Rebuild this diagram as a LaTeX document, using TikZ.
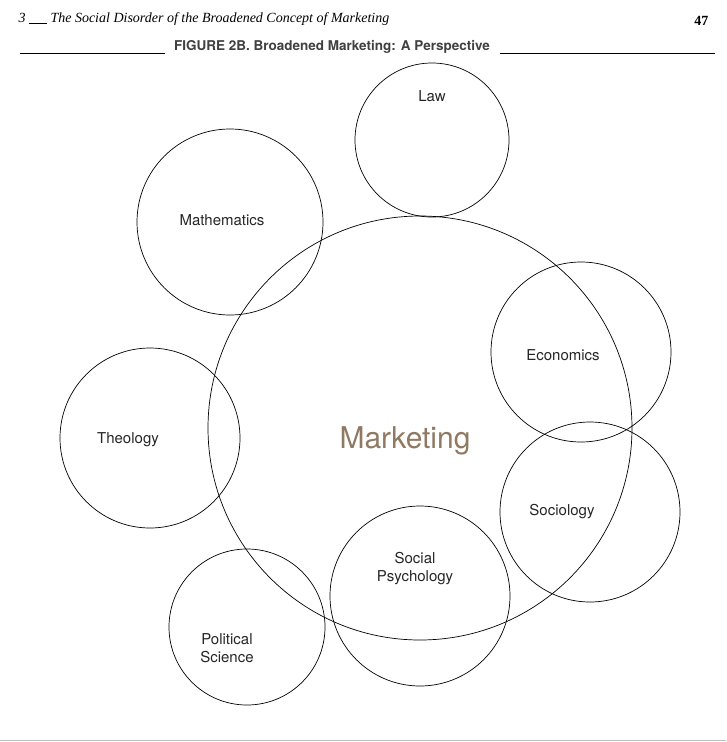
\documentclass[tikz,border=0pt]{standalone}
\usepackage{fontspec}
\setmainfont{Liberation Serif}
\setsansfont{TeX Gyre Heros}
\begin{document}
\begin{tikzpicture}[x=1pt,y=-1pt,
  disc/.style={draw,circle,line width=0.7pt},
  lbl/.style={font=\sffamily\fontsize{15}{18}\selectfont,align=center,text=black!85}]
\useasboundingbox (0,0) rectangle (726,742);
\node[anchor=west,font=\itshape\fontsize{14}{16}\selectfont] (hdr) at (15,19) {3 \rule[-1pt]{18pt}{0.5pt} The Social Disorder of the Broadened Concept of Marketing};
\node[anchor=east,font=\bfseries\fontsize{14}{16}\selectfont] (pg) at (712,21) {47};
\node[font=\sffamily\bfseries\fontsize{13.5}{16}\selectfont,text=black!75] (title) at (332,47) {FIGURE 2B. Broadened Marketing: A Perspective};
\coordinate (l1) at (20,53); \coordinate (l2) at (165,53);
\coordinate (r1) at (500,53); \coordinate (r2) at (715,53);
\draw[line width=0.6pt] (l1) -- (l2) (r1) -- (r2);
\node[disc,minimum size=424pt] (mkt) at (420,428) {};
\node[font=\sffamily\fontsize{30}{34}\selectfont,text=brown!50!black!70] (mktl) at (405,441) {Marketing};
\node[disc,minimum size=154pt] (law) at (432,140) {};
\node[disc,minimum size=186pt] (math) at (230,222) {};
\node[disc,minimum size=180pt] (eco) at (581,352) {};
\node[disc,minimum size=180pt] (theo) at (150,438) {};
\node[disc,minimum size=180pt] (soc) at (590,512) {};
\node[disc,minimum size=180pt] (sp) at (420,596) {};
\node[disc,minimum size=156pt] (pol) at (247,627) {};
\node[lbl] (lawl) at (432,96) {Law};
\node[lbl] (mathl) at (222,220) {Mathematics};
\node[lbl] (ecol) at (563,355) {Economics};
\node[lbl] (theol) at (128,440) {Theology};
\node[lbl] (socl) at (562,512) {Sociology};
\node[lbl] (spl) at (415,569) {Social\\Psychology};
\node[lbl] (poll) at (227,648) {Political\\Science};
\coordinate (b1) at (0,740); \coordinate (b2) at (726,740);
\draw[black!25,line width=1pt] (b1) -- (b2);
\end{tikzpicture}
\end{document}
